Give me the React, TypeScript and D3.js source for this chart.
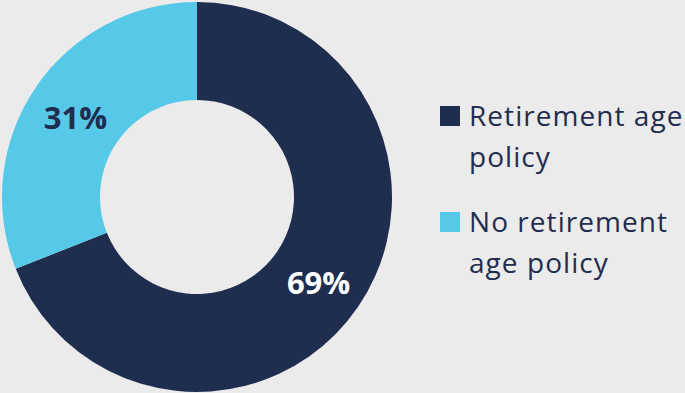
import React from "react";
import * as d3 from "d3";

const categories = ["Retirement age policy", "No retirement age policy"];
const values = [69, 31];
const colors = ["#1f2d4f", "#56c8e8"];
const labelColors = ["#ffffff", "#1f2d4f"];
const legendLines = [["Retirement age", "policy"], ["No retirement", "age policy"]];

export default function App() {
  const W = 685, H = 393;
  const cx = 197, cy = 197, R = 195, r = 97;
  const pie = d3.pie<number>().sort(null).value((d) => d)(values);
  const arc = d3.arc<d3.PieArcDatum<number>>().innerRadius(r).outerRadius(R);
  const labelArc = d3.arc<d3.PieArcDatum<number>>().innerRadius(147).outerRadius(147);
  const font = "'Open Sans', 'Noto Sans', sans-serif";
  return (
    <svg width={W} height={H} style={{ position: "absolute", left: 0, top: 0, background: "#ebebeb" }}>
      <rect width={W} height={H} fill="#ebebeb" />
      <g transform={`translate(${cx},${cy})`}>
        {pie.map((p, i) => (
          <path key={i} d={arc(p) || ""} fill={colors[i]} />
        ))}
        {pie.map((p, i) => {
          const [x, y] = labelArc.centroid(p);
          return (
            <text key={i} x={x} y={y} dy="0.46em" textAnchor="middle" fontFamily={font} fontWeight={700} fontSize={31} fill={labelColors[i]}>
              {Math.round(values[i])}%
            </text>
          );
        })}
      </g>
      {categories.map((c, i) => {
        const y0 = 106 + i * 106;
        return (
          <g key={c}>
            <rect x={440} y={y0} width={20} height={20} fill={colors[i]} />
            {legendLines[i].map((ln, j) => (
              <text key={j} x={469} y={y0 + 20 + j * 41} fontFamily={font} fontSize={28} letterSpacing={1.05} fill="#1f2d4f">{ln}</text>
            ))}
          </g>
        );
      })}
    </svg>
  );
}
